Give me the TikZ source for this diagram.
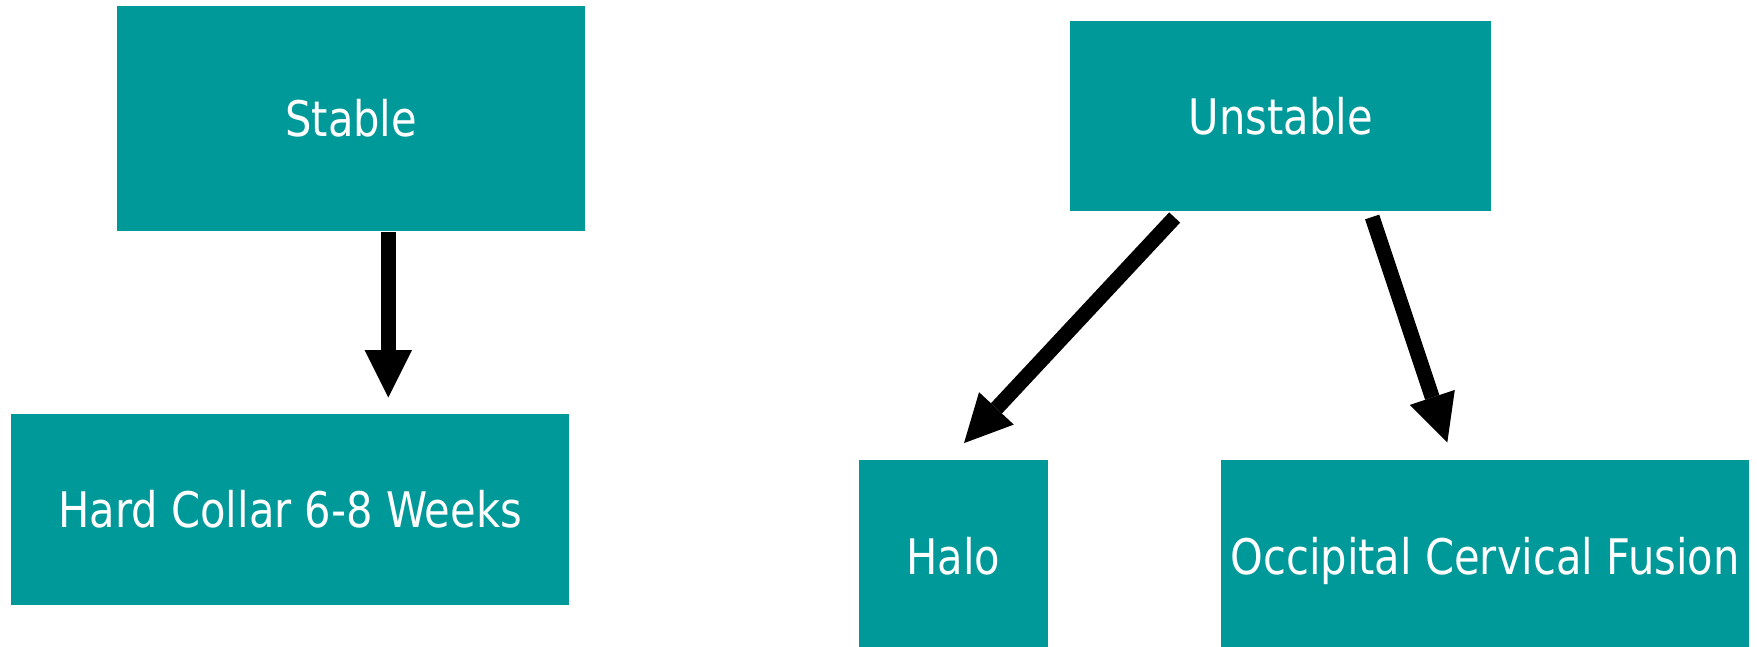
\documentclass[tikz,border=0pt]{standalone}
\usepackage{fontspec}
\usetikzlibrary{arrows.meta,calc}
\newfontfamily\boxfont[FakeStretch=0.85]{DejaVu Sans}
\definecolor{boxteal}{RGB}{0,153,153}
\tikzset{
  tealbox/.style={fill=boxteal, draw=none, inner sep=0pt, text=white,
    font=\boxfont\fontsize{49pt}{58pt}\selectfont,
    text height=36pt, text depth=0pt, anchor=center},
  flowarrow/.style={draw=black, line width=15pt,
    -{Triangle[length=47.5pt, width=47.5pt, line width=0pt]}}
}
\begin{document}
\begin{tikzpicture}[x=1pt, y=-1pt]
  \useasboundingbox (0,0) rectangle (1757,646);
  \clip (0,0) rectangle (1757,646);

  % left branch
  \node[tealbox, minimum width=467.5pt, minimum height=224.7pt] (stable) at (351.2,118.3) {Stable};
  \node[tealbox, minimum width=558.3pt, minimum height=191pt] (collar) at (290.2,509.5) {Hard Collar 6-8 Weeks};

  % right branch
  \node[tealbox, minimum width=421.5pt, minimum height=190pt] (unstable) at (1280.65,116) {Unstable};
  \node[tealbox, minimum width=189.5pt, minimum height=193pt] (halo) at (953.25,556) {Halo};
  \node[tealbox, minimum width=527.6pt, minimum height=193pt] (fusion) at (1485.1,556) {Occipital Cervical Fusion};

  % connectors
  \draw[flowarrow] ($(stable.south)+(37.1,1.5)$) -- ($(collar.north)+(98.1,-16.3)$);
  \draw[flowarrow] ($(unstable.south)+(-106,6.3)$) -- ($(halo.north)+(10.75,-16.2)$);
  \draw[flowarrow] ($(unstable.south)+(91.5,5.8)$) -- ($(fusion.north)+(-37.8,-16.8)$);
\end{tikzpicture}
\end{document}
